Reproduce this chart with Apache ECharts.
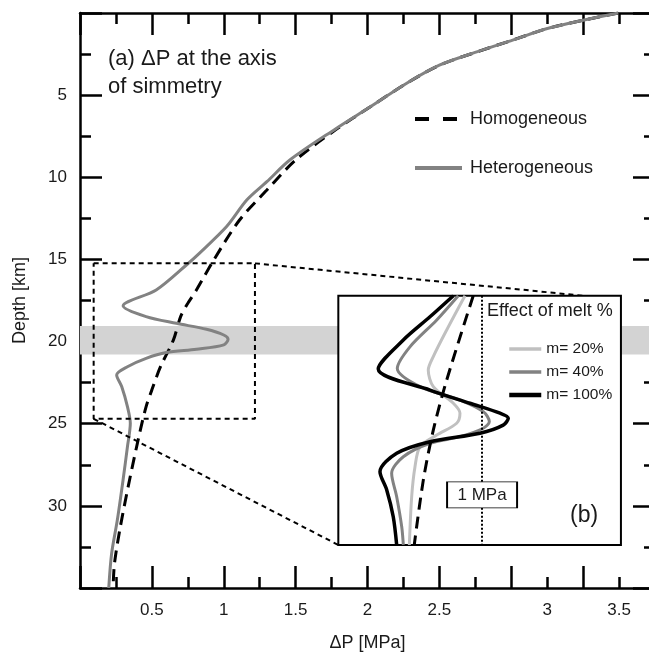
<!DOCTYPE html>
<html>
<head>
<meta charset="utf-8">
<script src="https://cdn.jsdelivr.net/npm/echarts@6/dist/echarts.min.js"></script>
<style>
  html, body { margin: 0; padding: 0; background: #fff; }
  #chart { width: 649px; height: 657px; }
</style>
</head>
<body>
<div id="chart"></div>
<script>
// (a) pressure change along the axis of symmetry, depth in km, dP in MPa
const hetDepth = [0, 0.9, 1.65, 2.37, 3.18, 4.29, 5.71, 7.1, 8.95, 10.27, 11.39, 13.0, 14.63, 15.34, 16.86, 17.83,
  18.48, 18.89, 19.25, 19.6, 19.86, 20.2, 20.47, 20.67, 21.02, 21.53, 22.03, 22.74, 23.96, 24.97, 26.4, 28.4, 30.85, 32.9, 35]
const hetDP = [3.745, 3.27, 3.01, 2.76, 2.5, 2.27, 2.02, 1.77, 1.46, 1.3, 1.16, 1.02, 0.83, 0.74, 0.53, 0.3,
  0.46, 0.67, 0.88, 1.0, 1.03, 1.0, 0.81, 0.6, 0.46, 0.33, 0.255, 0.29, 0.33, 0.35, 0.33, 0.3, 0.26, 0.22, 0.2]
const homDepth = [0, 0.9, 1.65, 2.37, 3.18, 4.29, 5.71, 7.1, 8.95, 10.78, 12.6, 15.04, 16.86, 17.67, 18.48, 19.9,
  21.53, 22.94, 23.96, 25.38, 28.2, 31.3, 33.5, 35]
const homDP = [3.745, 3.27, 3.01, 2.76, 2.5, 2.27, 2.02, 1.78, 1.5, 1.3, 1.11, 0.93, 0.81, 0.75, 0.7, 0.65,
  0.56, 0.5, 0.46, 0.42, 0.35, 0.28, 0.24, 0.23]

// (b) effect of melt percentage (zoom of 15.2-24.7 km)
const m20Depth = [15.24, 16.54, 17.55, 18.06, 18.69, 19.32, 19.7, 20.08, 20.53, 20.97, 21.73, 22.87, 24.7]
const m20DP = [0.861, 0.712, 0.603, 0.562, 0.603, 0.766, 0.82, 0.793, 0.631, 0.495, 0.454, 0.427, 0.408]
const m40Depth = [15.24, 16.16, 17.18, 18.0, 18.69, 19.2, 19.64, 20.02, 20.27, 20.59, 20.84, 21.35, 21.98, 22.87, 24.01, 24.7]
const m40DP = [0.806, 0.631, 0.413, 0.31, 0.495, 0.82, 1.01, 1.059, 1.01, 0.82, 0.576, 0.359, 0.264, 0.305, 0.346, 0.359]
const m100Depth = [15.24, 16.04, 16.92, 18.02, 18.82, 19.32, 19.7, 19.89, 20.15, 20.46, 20.78, 21.22, 21.92, 22.61, 23.63, 24.7]
const m100DP = [0.766, 0.576, 0.359, 0.155, 0.576, 0.901, 1.146, 1.213, 1.172, 0.983, 0.576, 0.305, 0.169, 0.224, 0.277, 0.305]
const homZoomDepth = [15.24, 18.44, 20.34, 22.23, 24.7]
const homZoomDP = [0.928, 0.712, 0.603, 0.522, 0.448]

const xLabelValues = [0.5, 1, 1.5, 2, 2.5, 3.25, 3.75]
const xLabelText = ['0.5', '1', '1.5', '2', '2.5', '3', '3.5']
const yLabelValues = [5, 10, 15, 20, 25, 30]

const band = [19.05, 20.78]
const zoomDP = [0.095, 1.217]
const zoomDepth = [15.24, 24.7]
const insetDP = [1.797, 3.763]      // inset frame in panel (a) coordinates
const insetDepth = [17.21, 32.38]
const connectTop = [3.5, 17.21]
const insetAxisDP = [-0.17, 2.13]
const refLine = 1
const refLabelDepth = 22.8

const font = 'Liberation Sans, Arial, Helvetica, sans-serif'
const ink = '#1a1a1a'
const pts = (xs, ys) => xs.map((x, i) => [x, ys[i]])
const noSymbol = { color: 'rgba(0,0,0,0)', borderWidth: 0, opacity: 0 }

const tickAxis = (extra) => Object.assign({
  type: 'value',
  gridIndex: 0,
  axisLine: { show: true, onZero: false, lineStyle: { color: '#000', width: 2.5 } },
  axisTick: { show: true, inside: true, length: 22, lineStyle: { color: '#000', width: 2.5 } },
  minorTick: { show: true, splitNumber: 2, length: 11, lineStyle: { color: '#000', width: 2.5 } },
  splitLine: { show: false },
  axisLabel: { show: false },
}, extra)

const xMain = { min: 0, max: 4, interval: 0.5 }
const yMain = { min: 0, max: 35, interval: 5, inverse: true }

const chart = echarts.init(document.getElementById('chart'))

const option = {
  animation: false,
  textStyle: { fontFamily: font },
  title: [
    {
      text: '(a) ΔP at the axis\nof simmetry', left: 108, top: 45, padding: 0,
      textStyle: { fontSize: 22, fontWeight: 'normal', lineHeight: 28, color: ink, fontFamily: font },
    },
    {
      text: 'Effect of melt %', left: 487, top: 302, padding: 0, z: 12,
      textStyle: { fontSize: 18, fontWeight: 'normal', color: ink, fontFamily: font },
    },
    {
      text: '(b)', left: 570, top: 504, padding: 0, z: 12,
      textStyle: { fontSize: 23, fontWeight: 'normal', color: ink, fontFamily: font },
    },
  ],
  legend: [
    {
      data: [
        { name: 'Homogeneous', lineStyle: { type: [14, 14], width: 4 } },
        { name: 'Heterogeneous', lineStyle: { width: 4 } },
      ],
      orient: 'vertical', left: 413, top: 110, padding: 0,
      itemWidth: 47, itemHeight: 14, itemGap: 31,
      selectedMode: false, itemStyle: noSymbol,
      textStyle: { fontSize: 18, color: ink, padding: [0, 0, 0, 3] },
    },
    {
      data: [
        { name: 'm= 20%', lineStyle: { width: 3.5 } },
        { name: 'm= 40%', lineStyle: { width: 3.5 } },
        { name: 'm= 100%', lineStyle: { width: 4.5 } },
      ],
      orient: 'vertical', left: 507, top: 341, padding: 0, z: 12,
      itemWidth: 32, itemHeight: 12, itemGap: 7,
      selectedMode: false, itemStyle: noSymbol,
      textStyle: { fontSize: 15.5, color: ink },
    },
  ],
  grid: [
    // right spine sits just past the picture edge, as in the original
    { left: 80, top: 13, width: 575, bottom: 69, outerBoundsMode: 'none', containLabel: false },
    { left: 338, top: 296, width: 283, height: 249, show: true, z: 5, outerBoundsMode: 'none',
      backgroundColor: '#fff', borderColor: '#000', borderWidth: 2 },
  ],
  xAxis: [
    tickAxis(Object.assign({
      position: 'bottom',
      name: 'ΔP [MPa]', nameLocation: 'middle', nameGap: 46,
      nameTextStyle: { fontSize: 18, color: ink },
      axisLabel: {
        show: true, customValues: xLabelValues, margin: 14, fontSize: 17, color: ink,
        formatter: (v) => {
          const i = xLabelValues.findIndex((t) => Math.abs(t - v) < 1e-6)
          return i < 0 ? '' : xLabelText[i]
        },
      },
    }, xMain)),
    tickAxis(Object.assign({ position: 'top' }, xMain)),
    { type: 'value', gridIndex: 1, min: insetAxisDP[0], max: insetAxisDP[1], show: false },
  ],
  yAxis: [
    tickAxis(Object.assign({
      position: 'left',
      name: 'Depth [km]', nameLocation: 'middle', nameGap: 51, nameRotate: 90,
      nameTextStyle: { fontSize: 18, color: ink },
      axisLabel: { show: true, customValues: yLabelValues, margin: 13, fontSize: 17, color: ink },
    }, yMain)),
    tickAxis(Object.assign({ position: 'right' }, yMain)),
    { type: 'value', gridIndex: 1, min: zoomDepth[0], max: zoomDepth[1], inverse: true, show: false },
  ],
  series: [
    {
      name: 'Homogeneous', type: 'line', data: pts(homDP, homDepth),
      smooth: 0.3, symbol: 'none', z: 3,
      lineStyle: { color: '#000', width: 3, type: [12, 7] }, itemStyle: { color: '#000' },
    },
    {
      name: 'Heterogeneous', type: 'line', data: pts(hetDP, hetDepth),
      smooth: 0.3, symbol: 'none', z: 4,
      lineStyle: { color: '#828282', width: 3 }, itemStyle: { color: '#828282' },
      markArea: {
        silent: true, itemStyle: { color: '#d3d3d3' },
        data: [[{ xAxis: xMain.min, yAxis: band[0] }, { xAxis: xMain.max, yAxis: band[1] }]],
      },
    },
    {
      name: 'zoom', type: 'line', symbol: 'none', silent: true, z: 4,
      data: [
        [zoomDP[0], zoomDepth[0]], [zoomDP[1], zoomDepth[0]], [zoomDP[1], zoomDepth[1]],
        [zoomDP[0], zoomDepth[1]], [zoomDP[0], zoomDepth[0]],
      ],
      lineStyle: { color: '#000', width: 2, type: [5, 4] },
    },
    {
      name: 'link top', type: 'line', symbol: 'none', silent: true, z: 4,
      data: [[zoomDP[1], zoomDepth[0]], connectTop],
      lineStyle: { color: '#000', width: 2, type: [5, 4] },
    },
    {
      name: 'link bottom', type: 'line', symbol: 'none', silent: true, z: 4,
      data: [[zoomDP[0], zoomDepth[1]], [insetDP[0], insetDepth[1]]],
      lineStyle: { color: '#000', width: 2, type: [5, 4] },
    },
    {
      name: 'm= 20%', type: 'line', xAxisIndex: 2, yAxisIndex: 2, data: pts(m20DP, m20Depth),
      smooth: 0.3, symbol: 'none', z: 10,
      lineStyle: { color: '#c0c0c0', width: 3 }, itemStyle: { color: '#c0c0c0' },
    },
    {
      name: 'm= 40%', type: 'line', xAxisIndex: 2, yAxisIndex: 2, data: pts(m40DP, m40Depth),
      smooth: 0.3, symbol: 'none', z: 10,
      lineStyle: { color: '#828282', width: 3 }, itemStyle: { color: '#828282' },
    },
    {
      name: 'm= 100%', type: 'line', xAxisIndex: 2, yAxisIndex: 2, data: pts(m100DP, m100Depth),
      smooth: 0.3, symbol: 'none', z: 10,
      lineStyle: { color: '#000', width: 3.5 }, itemStyle: { color: '#000' },
    },
    {
      name: 'Homogeneous (b)', type: 'line', xAxisIndex: 2, yAxisIndex: 2, data: pts(homZoomDP, homZoomDepth),
      smooth: 0.3, symbol: 'none', z: 10,
      lineStyle: { color: '#000', width: 3, type: [12, 7] },
      markLine: {
        silent: true, symbol: 'none', z: 11,
        lineStyle: { color: '#000', width: 2, type: [2, 2] },
        label: { show: false },
        data: [{ xAxis: refLine }],
      },
      markPoint: {
        silent: true, symbol: 'rect', symbolSize: [70, 26], z: 16,
        itemStyle: { color: '#fff', borderColor: '#000', borderWidth: 1.2 },
        label: { show: true, formatter: '1 MPa', color: ink, fontSize: 17, fontFamily: font },
        data: [{ coord: [refLine, refLabelDepth] }],
      },
    },
  ],
}

chart.setOption(option)

// place the inset frame from its corners in panel (a) coordinates
const tl = chart.convertToPixel({ gridIndex: 0 }, [insetDP[0], insetDepth[0]])
const br = chart.convertToPixel({ gridIndex: 0 }, [insetDP[1], insetDepth[1]])
chart.setOption({
  grid: [{}, { left: tl[0], top: tl[1], width: br[0] - tl[0], height: br[1] - tl[1] }],
})
</script>
</body>
</html>
